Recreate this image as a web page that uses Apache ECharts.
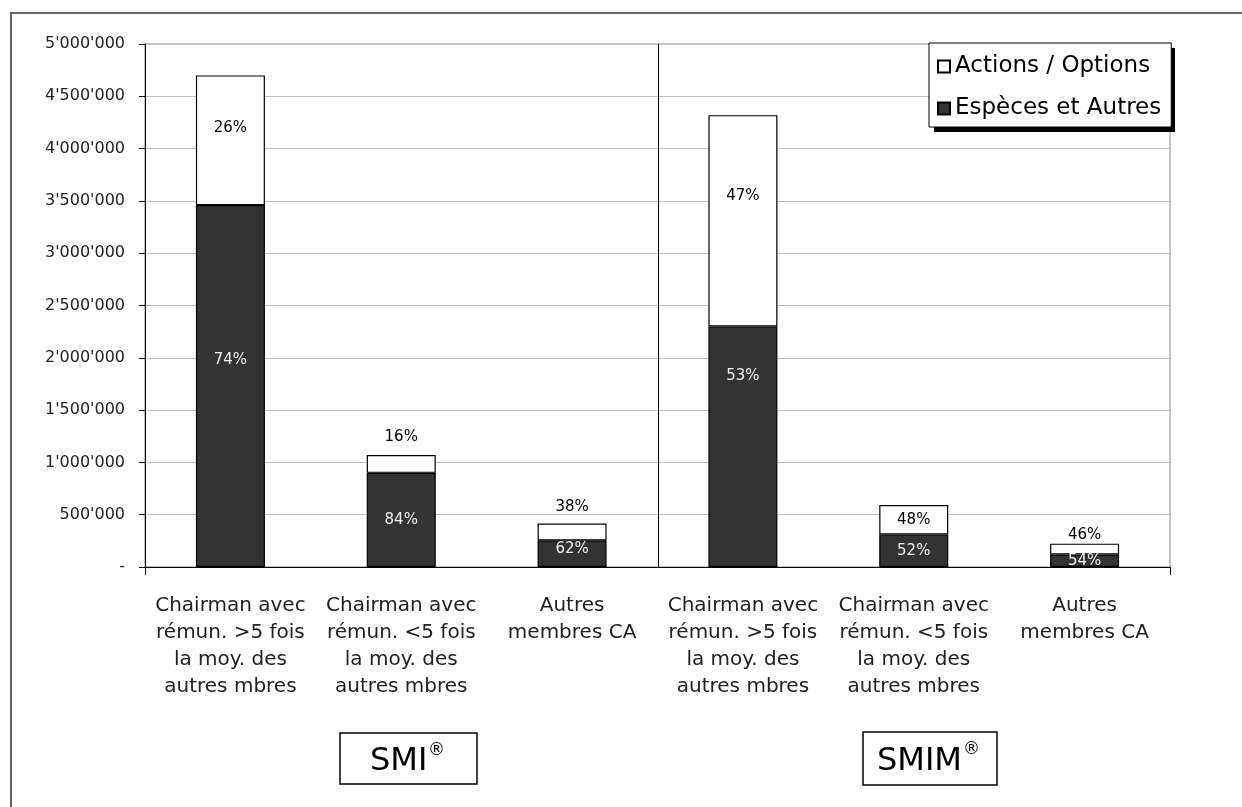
<!DOCTYPE html>
<html>
<head>
<meta charset="utf-8">
<title>Rémunération des membres du CA</title>
<script src="https://cdn.jsdelivr.net/npm/echarts@6.0.0/dist/echarts.min.js"></script>
<style>
  html, body { margin: 0; padding: 0; background: #fff; }
  #chart { width: 1242px; height: 807px; }
</style>
</head>
<body>
<div id="chart"></div>
<script>
// catégories de l'axe x
const categories = [
  'Chairman avec\nrémun. >5 fois\nla moy. des\nautres mbres',
  'Chairman avec\nrémun. <5 fois\nla moy. des\nautres mbres',
  'Autres\nmembres CA',
  'Chairman avec\nrémun. >5 fois\nla moy. des\nautres mbres',
  'Chairman avec\nrémun. <5 fois\nla moy. des\nautres mbres',
  'Autres\nmembres CA'
]
const seriesNames = ['Actions / Options', 'Espèces et Autres']

// valeurs (CHF)
const especes = [3460000, 900000, 255000, 2300000, 310000, 120000]
const actions = [1240000, 170000, 160000, 2020000, 283000, 103000]

// étiquettes en %
const especesPct = ['74%', '84%', '62%', '53%', '52%', '54%']
const actionsPct = ['26%', '16%', '38%', '47%', '48%', '46%']

// axe y
const yMin = 0
const yMax = 5000000
const yStep = 500000

const groupNames = ['SMI', 'SMIM']

const FONT = 'DejaVu Sans'

const fmtY = (v) => v === 0 ? '-' : String(v).replace(/\B(?=(\d{3})+(?!\d))/g, "'")

// placement des étiquettes (comme dans l'original)
const actionsLabelPos = [
  { position: 'inside', offset: [0, -12] },
  { position: 'top', distance: 10 },
  { position: 'top', distance: 9 },
  { position: 'inside', offset: [0, -25] },
  { position: 'inside' },
  { position: 'top', distance: 1 }
]
const especesLabelPos = [
  { offset: [0, -26] },
  {},
  { offset: [0, -5] },
  { offset: [0, -71] },
  {},
  {}
]

const chart = echarts.init(document.getElementById('chart'))

// boîte SMI / SMIM sous l'axe
const groupBox = (id, x, y, w, h, name, textX, regX) => ({
  type: 'group',
  id: id,
  children: [
    { type: 'rect', shape: { x: x, y: y, width: w, height: h }, style: { fill: '#fff', stroke: '#000', lineWidth: 1.5 } },
    { type: 'text', x: textX, y: y + h / 2 + 3, style: { text: name, font: '32px "' + FONT + '"', fill: '#000', verticalAlign: 'middle' } },
    { type: 'text', x: regX, y: y + 18, style: { text: '®', font: '17px "' + FONT + '"', fill: '#000', verticalAlign: 'middle' } }
  ]
})

const option = {
  backgroundColor: '#fff',
  animation: false,
  textStyle: { fontFamily: FONT },
  grid: {
    left: 145,
    right: 72,
    top: 44,
    bottom: 240,
    show: true,
    borderColor: '#888',
    borderWidth: 1,
    backgroundColor: 'transparent'
  },
  legend: {
    data: seriesNames,
    orient: 'vertical',
    left: 929,
    top: 43,
    z: 10,
    icon: 'rect',
    itemWidth: 12,
    itemHeight: 12,
    itemGap: 19,
    padding: [12, 10, 7, 8],
    backgroundColor: '#fff',
    borderColor: '#000',
    borderWidth: 1,
    textStyle: { fontSize: 23, color: '#000', fontFamily: FONT }
  },
  xAxis: {
    type: 'category',
    data: categories,
    axisLine: { lineStyle: { color: '#000', width: 1 } },
    axisTick: { show: true, interval: (i) => i === 0, length: 8, lineStyle: { color: '#000' } },
    axisLabel: {
      interval: 0,
      margin: 25,
      fontSize: 20,
      lineHeight: 27,
      color: '#222',
      fontFamily: FONT,
      align: 'center'
    }
  },
  yAxis: {
    type: 'value',
    min: yMin,
    max: yMax,
    interval: yStep,
    axisLine: { show: true, lineStyle: { color: '#000', width: 1 } },
    axisTick: { show: true, length: 6, lineStyle: { color: '#000' } },
    splitLine: { lineStyle: { color: '#c0c0c0', width: 1 } },
    axisLabel: {
      formatter: fmtY,
      margin: 20,
      fontSize: 16,
      color: '#222',
      fontFamily: FONT
    }
  },
  series: [
    {
      name: seriesNames[1],
      type: 'bar',
      stack: 'total',
      barWidth: 69,
      data: especes.map((v, i) => ({
        value: v,
        label: Object.assign({}, especesLabelPos[i], { formatter: especesPct[i] })
      })),
      itemStyle: { color: '#333333', borderColor: '#000', borderWidth: 1.2 },
      label: { show: true, position: 'inside', color: '#eeeeee', fontSize: 15, fontFamily: FONT },
      emphasis: { disabled: true }
    },
    {
      name: seriesNames[0],
      type: 'bar',
      stack: 'total',
      barWidth: 69,
      data: actions.map((v, i) => ({
        value: v,
        label: Object.assign({}, actionsLabelPos[i], { formatter: actionsPct[i] })
      })),
      itemStyle: { color: '#ffffff', borderColor: '#000', borderWidth: 1.2 },
      label: { show: true, color: '#000', fontSize: 15, fontFamily: FONT },
      emphasis: { disabled: true }
    }
  ],
  graphic: [
    // cadre extérieur
    { type: 'polyline', id: 'frame', z: 1, shape: { points: [[11, 807], [11, 13], [1242, 13]] }, style: { stroke: '#666', lineWidth: 2, fill: null } },
    // ombre de la légende
    { type: 'rect', id: 'legendShadow', z: 5, shape: { x: 934, y: 48, width: 241, height: 84 }, style: { fill: '#000' } },
    groupBox('boxSMI', 340, 733, 137, 51, groupNames[0], 370, 428),
    groupBox('boxSMIM', 863, 732, 134, 53, groupNames[1], 877, 963)
  ]
}

chart.setOption(option)

// séparation SMI / SMIM entre la 3e et la 4e catégorie
const xa = chart.convertToPixel({ xAxisIndex: 0 }, 2)
const xb = chart.convertToPixel({ xAxisIndex: 0 }, 3)
const sepX = Math.round((xa + xb) / 2) + 0.5
const yTop = chart.convertToPixel({ yAxisIndex: 0 }, yMax)
const yBot = chart.convertToPixel({ yAxisIndex: 0 }, yMin)
chart.setOption({
  graphic: [
    { type: 'line', id: 'separator', z: 3, shape: { x1: sepX, y1: yTop, x2: sepX, y2: yBot }, style: { stroke: '#000', lineWidth: 1 } }
  ]
})

window.addEventListener('resize', () => chart.resize())
</script>
</body>
</html>
